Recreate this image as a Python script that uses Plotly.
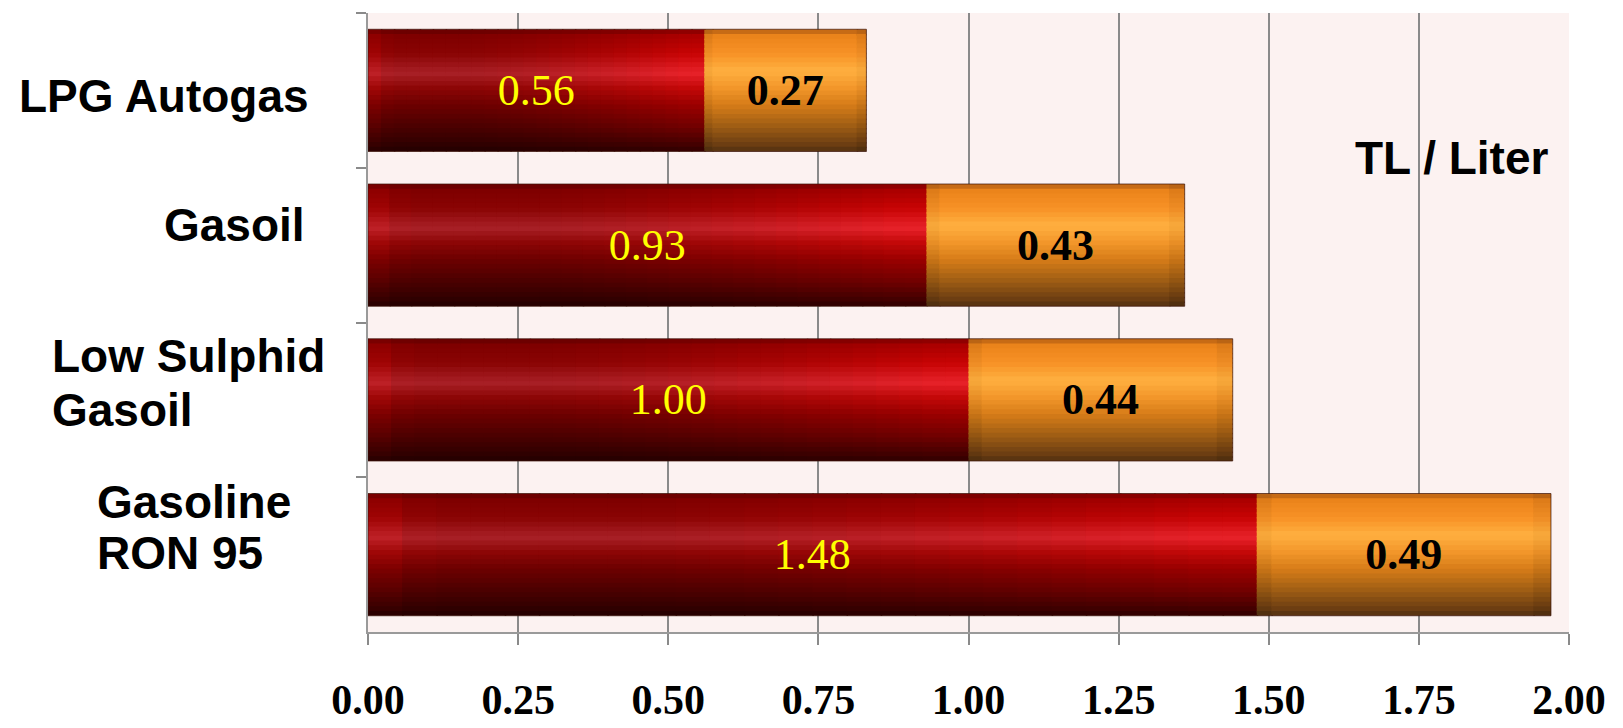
import math
import plotly.graph_objects as go

# ---------------- data ----------------
categories = ["LPG Autogas", "Gasoil", "Low Sulphid<br>Gasoil", "Gasoline<br>RON 95"]
product_price = [0.56, 0.93, 1.00, 1.48]
tax_part = [0.27, 0.43, 0.44, 0.49]
x_tick_values = [0.0, 0.25, 0.5, 0.75, 1.0, 1.25, 1.5, 1.75, 2.0]
x_tick_labels = ["0.00", "0.25", "0.50", "0.75", "1.00", "1.25", "1.50", "1.75", "2.00"]
unit_label = "TL / Liter"

# ---------------- layout constants ----------------
# the page body has an 8px default margin, so the figure is drawn 8px in and down
OFF = 8
W, H = 1623 - OFF, 728 - OFF
PLOT_L, PLOT_R, PLOT_T, PLOT_B = 368, 1569, 13, 641   # target page pixels
ML, MR, MT, MB = PLOT_L - OFF, 1623 - PLOT_R, PLOT_T - OFF, 728 - PLOT_B
PW, PH = PLOT_R - PLOT_L, PLOT_B - PLOT_T
X_MAX = 2.0
BAR_W = 0.79
N_BANDS = 26
OVX = 1.5 * X_MAX / PW                 # ~1.5px overlap between neighbouring shading tiles
OVY = 1.5 * len(categories) / PH

red_dark = [(0.00, "#5e0000"), (0.04, "#7e0000"), (0.20, "#8a0404"), (0.36, "#a82026"),
            (0.48, "#8c0606"), (0.62, "#6c0000"), (0.80, "#4a0000"), (0.95, "#2e0000"),
            (1.00, "#220000")]
red_bright = [(0.00, "#7a0000"), (0.04, "#a80000"), (0.20, "#c80404"), (0.36, "#e8222a"),
              (0.48, "#c40808"), (0.62, "#9a0000"), (0.80, "#700000"), (0.95, "#420000"),
              (1.00, "#300000")]
orange_main = [(0.00, "#a65610"), (0.04, "#ea821a"), (0.20, "#f79226"), (0.34, "#ffb040"),
               (0.48, "#f2962a"), (0.62, "#d67c18"), (0.80, "#9c5c14"), (0.95, "#6a3c12"),
               (1.00, "#523010")]
orange_edge = [(0.00, "#9a5010"), (0.04, "#dc7a18"), (0.20, "#ee8c24"), (0.34, "#f8aa3c"),
               (0.48, "#e88e26"), (0.62, "#c87416"), (0.80, "#905412"), (0.95, "#603610"),
               (1.00, "#4a2c0e")]

# horizontal shading pieces (fraction of the segment length where each piece starts)
red_pieces = [i / 26 for i in range(26)]
orange_pieces = [0.0, 0.05, 0.94]


def hex2rgb(h):
    h = h.lstrip("#")
    return tuple(int(h[i:i + 2], 16) for i in (0, 2, 4))


def profile(stops, t):
    for (t0, c0), (t1, c1) in zip(stops[:-1], stops[1:]):
        if t0 <= t <= t1:
            a = 0 if t1 == t0 else (t - t0) / (t1 - t0)
            r0, g0, b0 = hex2rgb(c0)
            r1, g1, b1 = hex2rgb(c1)
            return (r0 + (r1 - r0) * a, g0 + (g1 - g0) * a, b0 + (b1 - b0) * a)
    return hex2rgb(stops[-1][1])


def mix(stops_a, stops_b, w, t):
    a = profile(stops_a, t)
    b = profile(stops_b, t)
    return "rgb(%d,%d,%d)" % tuple(round(x + (y - x) * w) for x, y in zip(a, b))


def red_weight(f):
    bump = 0.35 * math.exp(-((f - 0.02) / 0.03) ** 2)
    ramp = min(1.0, max(0.0, (f - 0.3) / 0.65)) ** 1.3
    return min(1.0, bump + ramp)


def orange_weight(f):
    return 1.0 if (f < 0.05 or f > 0.94) else 0.0


fig = go.Figure()

stack_base = [0.0] * len(categories)
series = [(product_price, red_dark, red_bright, red_weight, red_pieces, True),
          (tax_part, orange_main, orange_edge, orange_weight, orange_pieces, False)]
for values, prof_a, prof_b, weight, pieces, covered_after in series:
    ends = pieces[1:] + [1.0]
    n_p = len(pieces)
    for k, (f0, f1) in enumerate(zip(pieces, ends)):
        w = weight((f0 + f1) / 2)
        ext_x = OVX if (k < n_p - 1 or covered_after) else 0.0
        for j in range(N_BANDS):
            t0, t1 = j / N_BANDS, (j + 1) / N_BANDS
            ext_y = OVY if j < N_BANDS - 1 else 0.0
            fig.add_trace(go.Bar(
                y=categories,
                x=[v * (f1 - f0) + ext_x for v in values],
                base=[b + v * f0 for b, v in zip(stack_base, values)],
                orientation="h",
                width=BAR_W * (t1 - t0) + ext_y, offset=-BAR_W / 2 + t0 * BAR_W,
                marker=dict(color=mix(prof_a, prof_b, w, (t0 + t1) / 2), line=dict(width=0)),
                hoverinfo="skip", showlegend=False,
            ))
    stack_base = [b + v for b, v in zip(stack_base, values)]

# thin outline around each whole stacked bar
fig.add_trace(go.Bar(
    y=categories, x=stack_base, base=[0.0] * len(categories), orientation="h",
    width=BAR_W, offset=-BAR_W / 2,
    marker=dict(color="rgba(0,0,0,0)", line=dict(color="rgba(60,20,10,0.7)", width=1)),
    hoverinfo="skip", showlegend=False,
))

# value labels (invisible carrier bars)
fig.add_trace(go.Bar(
    y=categories, x=product_price, base=[0.0] * len(categories), orientation="h",
    width=BAR_W, offset=-BAR_W / 2,
    marker=dict(color="rgba(0,0,0,0)", line=dict(width=0, color="rgba(0,0,0,0)")),
    text=["%.2f" % v for v in product_price], textposition="inside",
    insidetextanchor="middle", textangle=0, constraintext="none",
    textfont=dict(family="Times New Roman, Liberation Serif, serif", size=44, color="#ffff00"),
    hoverinfo="skip", showlegend=False,
))
fig.add_trace(go.Bar(
    y=categories, x=tax_part, base=product_price, orientation="h",
    width=BAR_W, offset=-BAR_W / 2,
    marker=dict(color="rgba(0,0,0,0)", line=dict(width=0, color="rgba(0,0,0,0)")),
    text=["%.2f" % v for v in tax_part], textposition="inside",
    insidetextanchor="middle", textangle=0, constraintext="none",
    textfont=dict(family="Times New Roman, Liberation Serif, serif", size=44, color="#000000",
                  weight="bold"),
    hoverinfo="skip", showlegend=False,
))

# category labels (left side), placed per line (page pixels)
label_pos = [(17, [97]), (162, [228]), (50, [361, 416]), (95, [509, 561])]
annotations = []
for cat, (px, ys) in zip(categories, label_pos):
    for line, py in zip(cat.split("<br>"), ys):
        annotations.append(dict(
            text=line, xref="paper", yref="paper",
            x=(px - PLOT_L) / PW, y=1 - (py - PLOT_T) / PH,
            xanchor="left", yanchor="middle", showarrow=False,
            font=dict(family="Arial, Liberation Sans, sans-serif", size=46, color="#000000",
                      weight="bold"),
        ))
annotations.append(dict(
    text=unit_label, xref="paper", yref="paper",
    x=(1353 - PLOT_L) / PW, y=1 - (160 - PLOT_T) / PH,
    xanchor="left", yanchor="middle", showarrow=False,
    font=dict(family="Arial, Liberation Sans, sans-serif", size=46, color="#000000",
              weight="bold"),
))

fig.update_layout(
    width=W, height=H,
    margin=dict(l=ML, r=MR, t=MT, b=MB, pad=0),
    barmode="overlay",
    paper_bgcolor="#ffffff",
    plot_bgcolor="#fcf2f1",
    annotations=annotations,
    showlegend=False,
    xaxis=dict(
        range=[0, X_MAX], tickvals=x_tick_values, ticktext=x_tick_labels,
        showgrid=True, gridcolor="#8a8a8a", gridwidth=1.5,
        showline=True, linecolor="#9a9a9a", linewidth=2,
        ticks="outside", ticklen=11, tickwidth=2, tickcolor="#8a8a8a",
        ticklabelstandoff=19,
        tickfont=dict(family="Times New Roman, Liberation Serif, serif", size=42,
                      color="#000000", weight="bold"),
        zeroline=False, fixedrange=True,
    ),
    yaxis=dict(
        type="category", categoryorder="array", categoryarray=categories,
        autorange="reversed", showticklabels=False,
        showline=True, linecolor="#9a9a9a", linewidth=2,
        ticks="outside", tickson="boundaries", ticklen=10, tickwidth=2, tickcolor="#8a8a8a",
        showgrid=False, zeroline=False, fixedrange=True,
    ),
)

fig.write_html("out.html")
